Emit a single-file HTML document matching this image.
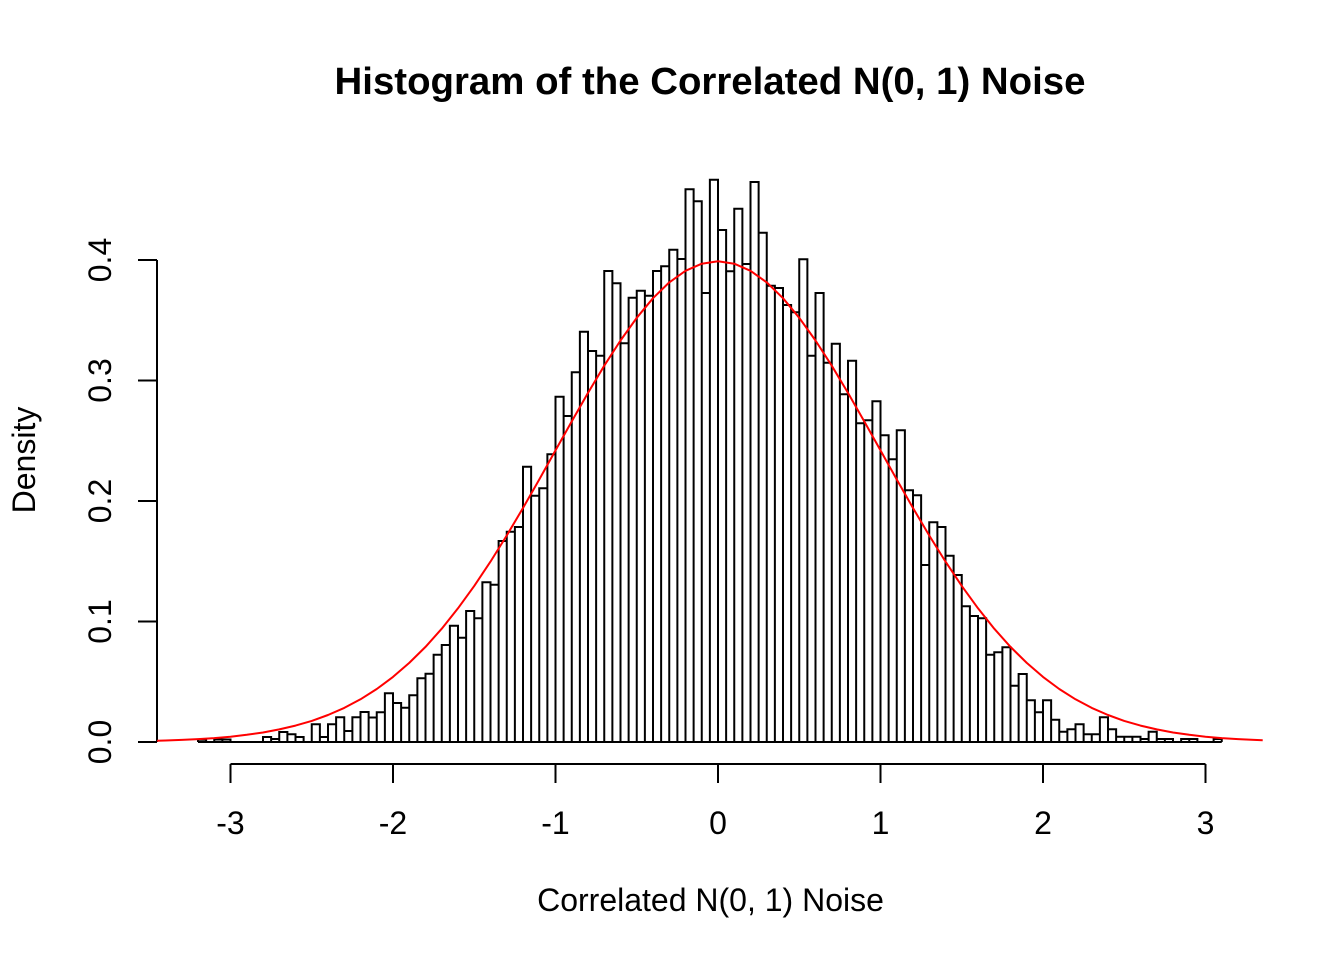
<!DOCTYPE html>
<html><head><meta charset="utf-8"><style>
html,body{margin:0;padding:0;background:#fff;}
svg{display:block;}
text{font-family:"Liberation Sans",Arial,sans-serif;fill:#000;}
</style></head><body>
<svg width="1344" height="960" viewBox="0 0 1344 960" xmlns="http://www.w3.org/2000/svg">
<rect width="1344" height="960" fill="#fff"/>
<text x="710" y="94" font-size="38.4" font-weight="bold" text-anchor="middle">Histogram of the Correlated N(0, 1) Noise</text>
<text x="710.5" y="911" font-size="32" text-anchor="middle">Correlated N(0, 1) Noise</text>
<text transform="translate(35,460) rotate(-90)" font-size="32" text-anchor="middle">Density</text>

<g stroke="#000" stroke-width="2" fill="none">
<path d="M157 742V260 M138 742H157 M138 621.5H157 M138 501H157 M138 380.5H157 M138 260H157"/>
<path d="M230.5 764H1205.5 M230.5 764V783 M393 764V783 M555.5 764V783 M718 764V783 M880.5 764V783 M1043 764V783 M1205.5 764V783"/>
</g>
<g font-size="32" text-anchor="middle">
<text x="230.5" y="834">-3</text>
<text x="393" y="834">-2</text>
<text x="555.5" y="834">-1</text>
<text x="718" y="834">0</text>
<text x="880.5" y="834">1</text>
<text x="1043" y="834">2</text>
<text x="1205.5" y="834">3</text>
<text transform="translate(111,742) rotate(-90)">0.0</text>
<text transform="translate(111,621.5) rotate(-90)">0.1</text>
<text transform="translate(111,501) rotate(-90)">0.2</text>
<text transform="translate(111,380.5) rotate(-90)">0.3</text>
<text transform="translate(111,260) rotate(-90)">0.4</text>
</g>

<path stroke="#000" stroke-width="2" fill="#fff" stroke-linejoin="miter" d="
M198 742V739.7h8.125V742
M214.25 742V739.5h8.125V742
M222.375 742V739.5h8.125V742
M263 742V737h8.125V742
M271.125 742V739h8.125V742
M279.25 742V732h8.125V742
M287.375 742V734.3h8.125V742
M295.5 742V737h8.125V742
M311.75 742V724.3h8.125V742
M319.875 742V737h8.125V742
M328 742V724.3h8.125V742
M336.125 742V717.3h8.125V742
M344.25 742V731h8.125V742
M352.375 742V717.3h8.125V742
M360.5 742V712h8.125V742
M368.625 742V717.5h8.125V742
M376.75 742V712.3h8.125V742
M384.875 742V693.3h8.125V742
M393 742V703h8.125V742
M401.125 742V707.7h8.125V742
M409.25 742V695.3h8.125V742
M417.375 742V678.3h8.125V742
M425.5 742V673.7h8.125V742
M433.625 742V654.7h8.125V742
M441.75 742V645h8.125V742
M449.875 742V625.7h8.125V742
M458 742V637.7h8.125V742
M466.125 742V611h8.125V742
M474.25 742V618.3h8.125V742
M482.375 742V582.3h8.125V742
M490.5 742V584.7h8.125V742
M498.625 742V541h8.125V742
M506.75 742V531.7h8.125V742
M514.875 742V527h8.125V742
M523 742V466.7h8.125V742
M531.125 742V495.7h8.125V742
M539.25 742V488.3h8.125V742
M547.375 742V454.3h8.125V742
M555.5 742V396.7h8.125V742
M563.625 742V416h8.125V742
M571.75 742V372.3h8.125V742
M579.875 742V331.7h8.125V742
M588 742V351h8.125V742
M596.125 742V355.7h8.125V742
M604.25 742V271h8.125V742
M612.375 742V283.3h8.125V742
M620.5 742V343.3h8.125V742
M628.625 742V297.7h8.125V742
M636.75 742V290.7h8.125V742
M644.875 742V295.7h8.125V742
M653 742V271h8.125V742
M661.125 742V266.3h8.125V742
M669.25 742V249.7h8.125V742
M677.375 742V259h8.125V742
M685.5 742V189.3h8.125V742
M693.625 742V201.3h8.125V742
M701.75 742V293h8.125V742
M709.875 742V179.7h8.125V742
M718 742V230h8.125V742
M726.125 742V271.3h8.125V742
M734.25 742V208.7h8.125V742
M742.375 742V264h8.125V742
M750.5 742V182h8.125V742
M758.625 742V232.7h8.125V742
M766.75 742V285.7h8.125V742
M774.875 742V288h8.125V742
M783 742V305h8.125V742
M791.125 742V312.3h8.125V742
M799.25 742V259.3h8.125V742
M807.375 742V355.7h8.125V742
M815.5 742V293h8.125V742
M823.625 742V362.7h8.125V742
M831.75 742V343.7h8.125V742
M839.875 742V394.3h8.125V742
M848 742V360.7h8.125V742
M856.125 742V423.3h8.125V742
M864.25 742V420.3h8.125V742
M872.375 742V401.3h8.125V742
M880.5 742V435.3h8.125V742
M888.625 742V459.3h8.125V742
M896.75 742V430.3h8.125V742
M904.875 742V490.3h8.125V742
M913 742V495.3h8.125V742
M921.125 742V565h8.125V742
M929.25 742V522.3h8.125V742
M937.375 742V527h8.125V742
M945.5 742V555.7h8.125V742
M953.625 742V575h8.125V742
M961.75 742V606.3h8.125V742
M969.875 742V616h8.125V742
M978 742V618.3h8.125V742
M986.125 742V654.7h8.125V742
M994.25 742V652.3h8.125V742
M1002.375 742V647.3h8.125V742
M1010.5 742V685.7h8.125V742
M1018.625 742V674h8.125V742
M1026.75 742V700.3h8.125V742
M1034.875 742V712.3h8.125V742
M1043 742V700.3h8.125V742
M1051.125 742V719.7h8.125V742
M1059.25 742V731.7h8.125V742
M1067.375 742V729.3h8.125V742
M1075.5 742V724.3h8.125V742
M1083.625 742V734.3h8.125V742
M1091.75 742V734.3h8.125V742
M1099.875 742V717.3h8.125V742
M1108 742V729.3h8.125V742
M1116.125 742V736.7h8.125V742
M1124.25 742V736.7h8.125V742
M1132.375 742V736.7h8.125V742
M1140.5 742V739h8.125V742
M1148.625 742V731.7h8.125V742
M1156.75 742V739h8.125V742
M1164.875 742V739h8.125V742
M1181.125 742V739h8.125V742
M1189.25 742V739h8.125V742
M1213.625 742V739h8.125V742
M198 742H1221.75"/>

<polyline fill="none" stroke="#ff0000" stroke-width="2" stroke-linejoin="round" points="
157.05,740.8 165.5,740.5 181.75,739.9 198,739.1 214.25,738.1 230.5,736.7 246.75,734.8 263,732.5 279.25,729.4 295.5,725.6 311.75,720.9 328,715.0 344.25,707.9 360.5,699.3 376.75,689.0 393,676.9 409.25,662.9 425.5,646.9 441.75,628.7 458,608.3 474.25,585.9 490.5,561.6 506.75,535.5 523,508.0 539.25,479.5 555.5,450.4 571.75,421.4 588,392.9 604.25,365.7 620.5,340.5 636.75,317.8 653,298.2 669.25,282.4 685.5,270.8 701.75,263.7 718,261.3 734.25,263.7 750.5,270.8 766.75,282.4 783,298.2 799.25,317.8 815.5,340.5 831.75,365.7 848,392.9 864.25,421.4 880.5,450.4 896.75,479.5 913,508.0 929.25,535.5 945.5,561.6 961.75,585.9 978,608.3 994.25,628.7 1010.5,646.9 1026.75,662.9 1043,676.9 1059.25,689.0 1075.5,699.3 1091.75,707.9 1108,715.0 1124.25,720.9 1140.5,725.6 1156.75,729.4 1173,732.5 1189.25,734.8 1205.5,736.7 1221.75,738.1 1238,739.1 1254.25,739.9 1262.7,740.3"/>
</svg>
</body></html>
